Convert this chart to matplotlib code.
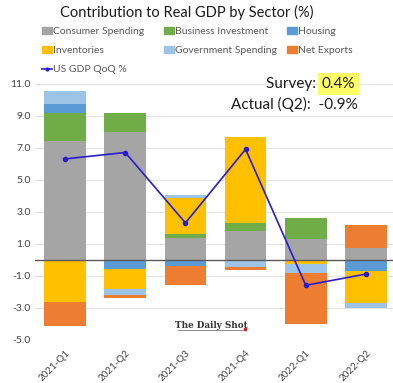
import matplotlib.pyplot as plt
import numpy as np
from matplotlib.patches import Patch
from matplotlib.lines import Line2D

plt.rcParams['font.family'] = ['Lato', 'DejaVu Sans']

# quarters and contributions (percentage points)
quarters = ['2021-Q1', '2021-Q2', '2021-Q3', '2021-Q4', '2022-Q1', '2022-Q2']
consumer = [7.45, 8.0, 1.37, 1.81, 1.27, 0.71]
business = [1.75, 1.2, 0.25, 0.5, 1.32, 0.0]
housing = [0.55, -0.58, -0.37, 0.0, 0.0, -0.69]
inventories = [-2.62, -1.27, 2.21, 5.34, -0.27, -2.04]
government = [0.8, -0.35, 0.19, -0.44, -0.54, -0.27]
net_exports = [-1.55, -0.17, -1.23, -0.2, -3.23, 1.44]
gdp = [6.3, 6.7, 2.3, 6.9, -1.6, -0.9]

sectors = ['Consumer Spending', 'Business Investment', 'Housing',
           'Inventories', 'Government Spending', 'Net Exports']
colors = ['#a5a5a5', '#70ad47', '#5b9bd5', '#ffc000', '#9dc3e6', '#ed7d31']
series = [consumer, business, housing, inventories, government, net_exports]

fig = plt.figure(figsize=(3.93, 3.83), dpi=100)
ax = fig.add_axes([35 / 393, 1 - 339.7 / 383, 358 / 393, (339.7 - 83.7) / 383])

x = np.arange(len(quarters))
pos_base = np.zeros(len(quarters))
neg_base = np.zeros(len(quarters))
for vals, c in zip(series, colors):
    v = np.array(vals)
    p = np.where(v > 0, v, 0)
    n = np.where(v < 0, v, 0)
    ax.bar(x, p, 0.69, bottom=pos_base, color=c, zorder=2)
    ax.bar(x, n, 0.69, bottom=neg_base, color=c, zorder=2)
    pos_base += p
    neg_base += n

ax.plot(x, gdp, color='#2b1dcc', lw=1.2, marker='o', ms=3, zorder=3)
ax.axhline(0, color='#595959', lw=1.0, zorder=2.5)

ax.set_xlim(-0.5, 5.45)
ax.set_ylim(-5, 11)
ax.set_yticks(np.arange(-5, 12, 2))
ax.set_yticklabels([f'{t:.1f}' for t in np.arange(-5, 12, 2)], fontsize=7.5, color='#404040')
ax.set_xticks(x)
ax.set_xticklabels(quarters, rotation=45, ha='right', rotation_mode='anchor',
                   fontsize=7, color='#404040')
ax.tick_params(length=0, pad=3)
ax.tick_params(axis='x', pad=6)
ax.grid(axis='y', color='#e3e3e3', lw=0.8, zorder=0)
for s in ax.spines.values():
    s.set_visible(False)

fig.text(187 / 393, 1 - 12 / 383, 'Contribution to Real GDP by Sector (%)',
         ha='center', va='center', fontsize=10.5, color='#1a1a1a')

# legend, three columns
h = [Patch(color=c, label=s) for s, c in zip(sectors, colors)]
gdp_h = Line2D([], [], color='#2b1dcc', lw=1.2, marker='o', ms=2, label='US GDP QoQ %')
cols = [([h[0], h[3], gdp_h], 42), ([h[1], h[4]], 164), ([h[2], h[5]], 287)]
for hs, x0 in cols:
    fig.legend(handles=hs, loc='upper left', bbox_to_anchor=(x0 / 393, 1 - 27 / 383),
               frameon=False, fontsize=7.5, handlelength=0.95, handleheight=0.65,
               handletextpad=0.15, labelspacing=0.95, borderpad=0, borderaxespad=0,
               labelcolor='#595959')

fig.text(320 / 393, 1 - 84 / 383, 'Survey: ', ha='right', va='center', fontsize=11, color='#1a1a1a')
fig.text(322 / 393, 1 - 84 / 383, '0.4%', ha='left', va='center', fontsize=11, color='#1a1a1a',
         bbox=dict(facecolor='#ffff66', edgecolor='none', pad=2.5))
fig.text(358 / 393, 1 - 104 / 383, 'Actual (Q2):  -0.9%', ha='right', va='center',
         fontsize=11, color='#1a1a1a')

# watermark
fig.text(211 / 393, 1 - 325 / 383, 'The Daily Shot', ha='center', va='center',
         fontsize=6.3, fontweight='bold', family='DejaVu Serif', color='#333333')
ax.plot([178 / 393, 243 / 393], [1 - 330 / 383] * 2, transform=fig.transFigure,
        color='#777777', lw=0.6, clip_on=False)
ax.plot([245.5 / 393], [1 - 329 / 383], transform=fig.transFigure, marker='o', ms=1.6,
        color='#d22020', clip_on=False)

fig.savefig('out.png', dpi=100)
